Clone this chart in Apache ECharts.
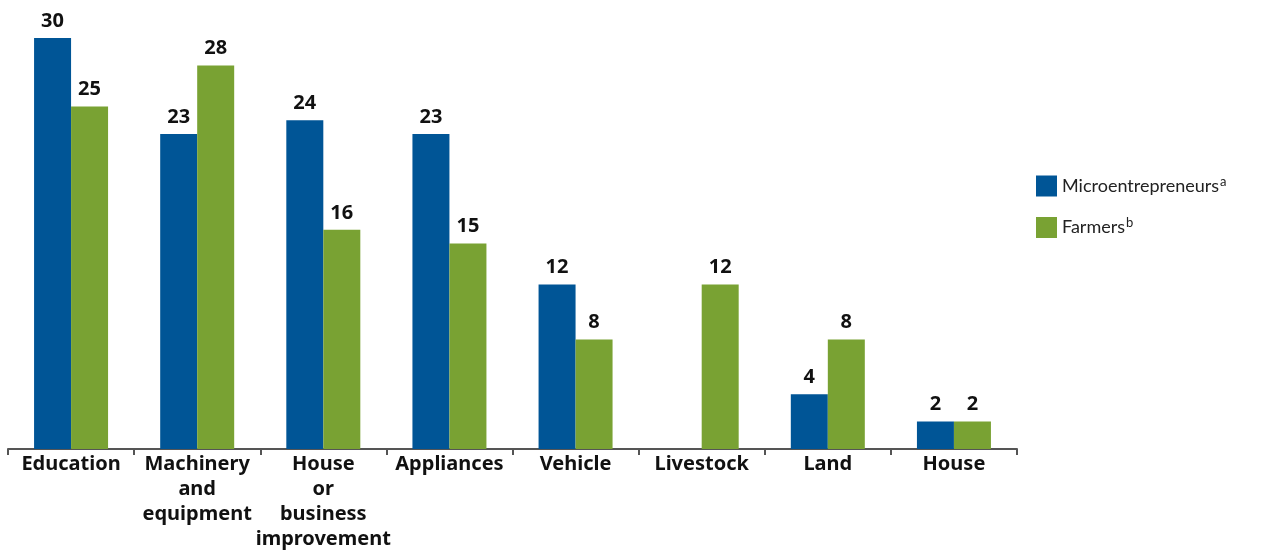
<!DOCTYPE html>
<html>
<head>
<meta charset="utf-8">
<script src="https://cdn.jsdelivr.net/npm/echarts@6/dist/echarts.min.js"></script>
<style>
  html, body { margin: 0; padding: 0; background: #fff; }
  #chart { width: 1264px; height: 554px; }
</style>
</head>
<body>
<div id="chart"></div>
<script>
// Uses of loans, percent of borrowers
const categories = [
  'Education',
  'Machinery\nand\nequipment',
  'House\nor\nbusiness\nimprovement',
  'Appliances',
  'Vehicle',
  'Livestock',
  'Land',
  'House'
];
const microentrepreneurs = [30, 23, 24, 23, 12, null, 4, 2];
const farmers = [25, 28, 16, 15, 8, 12, 8, 2];
const seriesNames = ['Microentrepreneurs', 'Farmers'];
const seriesNotes = { Microentrepreneurs: 'a', Farmers: 'b' };

const FONT = '"Noto Sans", "Open Sans", sans-serif';
const LEGEND_FONT = 'Lato, "Noto Sans", sans-serif';
const BLUE = '#005596';
const GREEN = '#79A233';

const valueLabel = {
  show: true,
  position: 'top',
  distance: 7,
  color: '#111',
  fontFamily: FONT,
  fontWeight: 'bold',
  fontSize: 20
};

const chart = echarts.init(document.getElementById('chart'));
chart.setOption({
  animation: false,
  backgroundColor: '#fff',
  textStyle: { fontFamily: FONT },
  grid: {
    left: 8, right: 247, top: 38, bottom: 105,
    containLabel: false,
    outerBoundsMode: 'none'
  },
  legend: {
    orient: 'vertical',
    left: 1031,
    top: 170,
    itemWidth: 21,
    itemHeight: 21,
    itemGap: 20,
    icon: 'rect',
    data: seriesNames,
    formatter: name => '{n|' + name + '}{s|' + seriesNotes[name] + '}',
    textStyle: {
      rich: {
        n: { fontFamily: LEGEND_FONT, fontSize: 18, color: '#222', lineHeight: 22 },
        s: { fontFamily: LEGEND_FONT, fontSize: 13, color: '#222', verticalAlign: 'top', lineHeight: 22, padding: [0, 0, 4, 1] }
      }
    }
  },
  xAxis: {
    type: 'category',
    data: categories,
    axisLine: { lineStyle: { color: '#555', width: 2 } },
    axisTick: { show: true, length: 6, lineStyle: { color: '#555', width: 2 } },
    axisLabel: {
      interval: 0,
      margin: 3,
      color: '#111',
      fontFamily: FONT,
      fontWeight: 'bold',
      fontSize: 20,
      lineHeight: 25
    }
  },
  yAxis: {
    type: 'value',
    min: 0,
    max: 30,
    show: false,
    splitLine: { show: false }
  },
  series: [
    {
      name: seriesNames[0],
      type: 'bar',
      data: microentrepreneurs,
      barWidth: 37,
      barGap: '0%',
      itemStyle: { color: BLUE },
      label: valueLabel
    },
    {
      name: seriesNames[1],
      type: 'bar',
      data: farmers,
      barWidth: 37,
      itemStyle: { color: GREEN },
      label: valueLabel
    }
  ]
});
</script>
</body>
</html>
